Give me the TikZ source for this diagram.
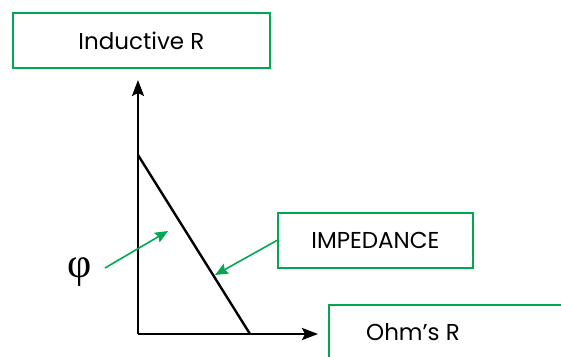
\documentclass[tikz,border=0pt]{standalone}
\usepackage{fontspec}
\setmainfont{Poppins}
\newfontfamily\phifont{Liberation Serif}
\usetikzlibrary{positioning, arrows.meta, calc}
\definecolor{boxgreen}{RGB}{0,168,82}

\begin{document}
\begin{tikzpicture}[
            x=1pt, y=-1pt,
            greenbox/.style={draw=boxgreen, line width=1.8pt, rectangle, font=\fontsize{23}{26}\selectfont, inner sep=0pt},
            boxtext/.style={font=\fontsize{23}{26}\selectfont, inner sep=0pt},
            axis/.style={line width=2.4pt, -{Stealth[length=16pt, width=12pt, inset=3pt]}},
            side/.style={line width=2.4pt},
            pointer/.style={draw=boxgreen, line width=1.6pt, -{Stealth[length=13pt, width=11pt, inset=2pt]}}
        ]
        \clip (0,0) rectangle (561,356);
        \useasboundingbox (0,0) rectangle (561,356);

        % Boxes
        \node[greenbox, minimum width=257pt, minimum height=55pt, anchor=north west] (ind) at (12,12) {Inductive R};
        \node[greenbox, minimum width=195pt, minimum height=55pt, anchor=north west] (imp) at (277,212) {IMPEDANCE};
        \node[greenbox, minimum width=270pt, minimum height=70pt, anchor=north west] (ohm) at (328,304) {};
        \node[boxtext] (ohmtext) at (413,332) {Ohm’s R};
        \node[font=\phifont\fontsize{42}{46}\selectfont, inner sep=0pt] (phi) at (80,272) {φ};

        % Triangle
        \coordinate (o) at (138,334);
        \coordinate (ytop) at (138,80);
        \coordinate (xend) at (318,334);
        \coordinate (a) at (138,155);
        \coordinate (b) at (250,334);
        \coordinate (hit) at (215,275);
        \coordinate (phistart) at (105,268);
        \coordinate (phitip) at (168,231);

        \draw[axis] (o) -- (ytop);
        \draw[axis] (o) -- (xend);
        \draw[side] (a) -- (b);

        % Pointers
        \draw[pointer] (imp.west) -- (hit);
        \draw[pointer] (phistart) -- (phitip);

    \end{tikzpicture}
\end{document}
